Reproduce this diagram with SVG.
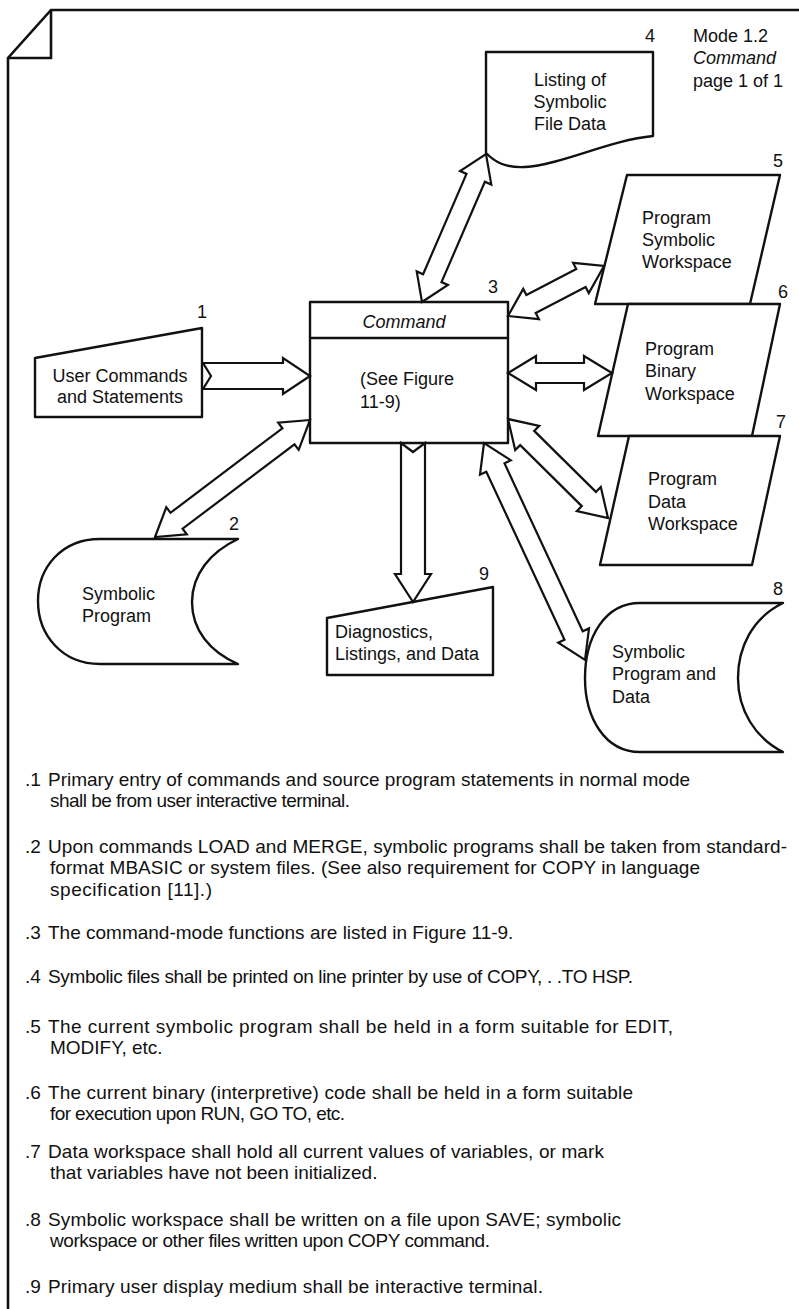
<svg xmlns="http://www.w3.org/2000/svg" width="799" height="1309" viewBox="0 0 799 1309">
<style>
.shape{fill:#fff;stroke:#111;stroke-width:2.4;stroke-linejoin:round}
.frame{fill:none;stroke:#111;stroke-width:2.6}
.arrow{fill:#fff;stroke:#111;stroke-width:2.2;stroke-linejoin:miter}
text{font-family:"Liberation Sans",Arial,Helvetica,sans-serif;font-size:18px;fill:#111}
.it{font-style:italic}
.note{font-size:19px}
.mid{text-anchor:middle}
</style>
<rect width="799" height="1309" fill="#fff"/>
<g id="page-frame">
<path class="frame" d="M799,10 H51 L8,58 V1309"/>
<path class="frame" d="M51,10 V58 H8"/>
</g>
<g id="mode-label">
<text x="693" y="42">Mode 1.2</text>
<text x="693" y="64" class="it">Command</text>
<text x="693" y="87">page 1 of 1</text>
</g>
<g id="node-1">
<polygon class="shape" points="35,358 202,328 202,417 35,417"/>
<text x="120" y="382" class="mid">User Commands</text>
<text x="120" y="403" class="mid">and Statements</text>
<text x="202" y="318" class="mid">1</text>
</g>
<g id="node-2">
<path class="shape" d="M100,539 H238 C210,552 192,575 192,602 C192,630 210,652 238,664 H100 C62,664 38,635 38,601 C38,567 62,539 100,539 Z"/>
<text x="82" y="600">Symbolic</text>
<text x="82" y="622">Program</text>
<text x="234" y="530" class="mid">2</text>
</g>
<g id="node-3">
<rect class="shape" x="310" y="302" width="198" height="141"/>
<line class="shape" x1="310" y1="338" x2="508" y2="338"/>
<text x="404" y="328" class="mid it">Command</text>
<text x="360" y="385">(See Figure</text>
<text x="360" y="408">11-9)</text>
<text x="493" y="293" class="mid">3</text>
</g>
<g id="node-4">
<path class="shape" d="M486,52 H653 V136 C610,140 560,165 525,167 C505,168 495,162 486,153 Z"/>
<text x="570" y="86" class="mid">Listing of</text>
<text x="570" y="108" class="mid">Symbolic</text>
<text x="570" y="130" class="mid">File Data</text>
<text x="650" y="42" class="mid">4</text>
</g>
<g id="node-5">
<polygon class="shape" points="627,175 780,175 750,304 595,304"/>
<text x="642" y="224">Program</text>
<text x="642" y="246">Symbolic</text>
<text x="642" y="268">Workspace</text>
<text x="778" y="167" class="mid">5</text>
</g>
<g id="node-6">
<polygon class="shape" points="628,304 780,304 752,436 598,436"/>
<text x="645" y="355">Program</text>
<text x="645" y="377">Binary</text>
<text x="645" y="400">Workspace</text>
<text x="783" y="298" class="mid">6</text>
</g>
<g id="node-7">
<polygon class="shape" points="629,436 780,436 752,565 600,565"/>
<text x="648" y="485">Program</text>
<text x="648" y="508">Data</text>
<text x="648" y="530">Workspace</text>
<text x="781" y="428" class="mid">7</text>
</g>
<g id="node-8">
<path class="shape" d="M640,603 H783 C752,618 738,648 738,678 C738,710 755,738 783,752 H640 C605,752 585,718 585,678 C585,637 605,603 640,603 Z"/>
<text x="612" y="658">Symbolic</text>
<text x="612" y="680">Program and</text>
<text x="612" y="703">Data</text>
<text x="778" y="595" class="mid">8</text>
</g>
<g id="node-9">
<polygon class="shape" points="327,618 493,587 493,675 327,675"/>
<text x="335" y="638">Diagnostics,</text>
<text x="335" y="660">Listings, and Data</text>
<text x="484" y="580" class="mid">9</text>
</g>
<g id="connectors">
<polygon class="arrow" points="310,376 283,394 283,389 203,389 211,376 203,363 283,363 283,358"/>
<polygon class="arrow" points="413,602 395,574 401,574 401,443 413,452 425,443 425,574 431,574"/>
<polygon class="arrow" points="422,302 447.9,284.9 441.5,282.1 484.9,181.8 491.3,184.6 486,154 460.1,171.1 466.5,173.9 423.1,274.2 416.7,271.4"/>
<polygon class="arrow" points="508,316 538.9,319.1 535.7,312.9 585.6,286.9 588.8,293.1 604,266 573.1,262.9 576.3,269.1 526.4,295.1 523.2,288.9"/>
<polygon class="arrow" points="508,373 536,390 536,383 584,383 584,390 612,373 584,356 584,363 536,363 536,356"/>
<polygon class="arrow" points="508,419 515.2,450.1 520.2,445.1 581.8,506.1 576.9,511.1 608,518 600.8,486.9 595.9,491.9 534.2,430.9 539.2,425.9"/>
<polygon class="arrow" points="484,443 480,474.7 486.3,471.7 564.5,639.7 558.2,642.7 585,660 589,628.4 582.7,631.3 504.5,463.3 510.8,460.3"/>
<polygon class="arrow" points="310,420 278.2,422.7 282.4,428.3 170.5,512.8 166.3,507.2 155,537 186.8,534.3 182.6,528.7 294.5,444.3 298.7,449.8"/>
</g>
<g id="notes">
<text x="25" y="786" class="note">.1</text>
<text x="48" y="786" class="note">Primary entry of commands and source program statements in normal mode</text>
<text x="50" y="807" class="note" textLength="300">shall be from user interactive terminal.</text>
<text x="25" y="853" class="note">.2</text>
<text x="48" y="853" class="note" textLength="739">Upon commands LOAD and MERGE, symbolic programs shall be taken from standard-</text>
<text x="50" y="874" class="note" textLength="650">format MBASIC or system files.  (See also requirement for COPY in language</text>
<text x="50" y="896" class="note" textLength="162">specification [11].)</text>
<text x="25" y="939" class="note">.3</text>
<text x="48" y="939" class="note">The command-mode functions are listed in Figure 11-9.</text>
<text x="25" y="983" class="note">.4</text>
<text x="48" y="983" class="note" textLength="585">Symbolic files shall be printed on line printer by use of COPY, . .TO HSP.</text>
<text x="25" y="1033" class="note">.5</text>
<text x="48" y="1033" class="note" textLength="625">The current symbolic program shall be held in a form suitable for EDIT,</text>
<text x="50" y="1054" class="note">MODIFY, etc.</text>
<text x="25" y="1099" class="note">.6</text>
<text x="48" y="1099" class="note" textLength="585">The current binary (interpretive) code shall be held in a form suitable</text>
<text x="50" y="1120" class="note" textLength="295">for execution upon RUN, GO TO, etc.</text>
<text x="25" y="1158" class="note">.7</text>
<text x="48" y="1158" class="note" textLength="556">Data workspace shall hold all current values of variables, or mark</text>
<text x="50" y="1179" class="note">that variables have not been initialized.</text>
<text x="25" y="1226" class="note">.8</text>
<text x="48" y="1226" class="note" textLength="573">Symbolic workspace shall be written on a file upon SAVE; symbolic</text>
<text x="50" y="1247" class="note" textLength="440">workspace or other files written upon COPY command.</text>
<text x="25" y="1293" class="note">.9</text>
<text x="48" y="1293" class="note" textLength="495">Primary user display medium shall be interactive terminal.</text>
</g>
</svg>
